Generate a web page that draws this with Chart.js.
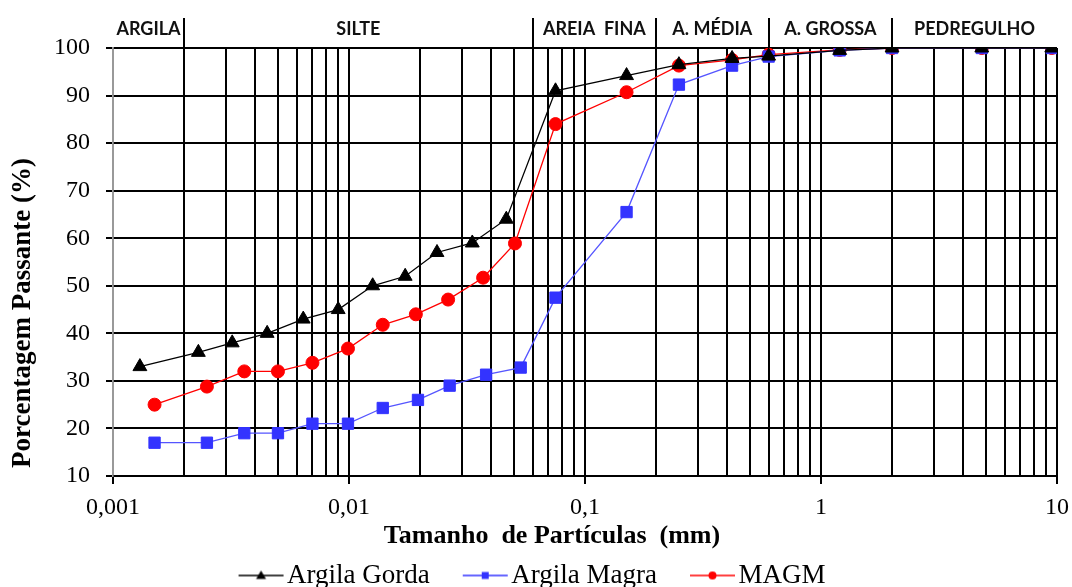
<!DOCTYPE html>
<html>
<head>
<meta charset="utf-8">
<script src="https://cdn.jsdelivr.net/npm/chart.js@4.4.1/dist/chart.umd.min.js"></script>
<style>
  html, body { margin: 0; padding: 0; background: #fff; }
</style>
</head>
<body>
<canvas id="myChart" width="1072" height="587"></canvas>
<script>
// particle size (mm) and percent passing
const gordaX = [0.0013, 0.0023, 0.0032, 0.0045, 0.0064, 0.009, 0.0126, 0.0173, 0.0236, 0.0333, 0.0464, 0.075, 0.15, 0.25, 0.42, 0.6, 1.2, 2.0, 4.8, 9.5];
const gordaY = [33, 36, 38, 40, 43, 45, 50, 52, 57, 59, 64, 91, 94.2, 96.5, 97.8, 98.3, 99.5, 100, 100, 100];

const magraX = [0.0015, 0.0025, 0.0036, 0.005, 0.007, 0.0099, 0.0139, 0.0196, 0.0267, 0.0381, 0.0534, 0.075, 0.15, 0.25, 0.42, 0.6, 1.2, 2.0, 4.8, 9.5];
const magraY = [17, 17, 19, 19, 21, 21, 24.3, 26, 29, 31.3, 32.8, 47.5, 65.5, 92.3, 96.3, 98.2, 99.5, 100, 100, 100];

const magmX = [0.0015, 0.0025, 0.0036, 0.005, 0.007, 0.0099, 0.0139, 0.0192, 0.0263, 0.037, 0.0505, 0.075, 0.15, 0.25, 0.42, 0.6, 1.2, 2.0, 4.8, 9.5];
const magmY = [25, 28.8, 32, 32, 33.8, 36.8, 41.8, 44, 47.1, 51.7, 58.9, 84, 90.7, 96.3, 97.5, 98.6, 99.6, 100, 100, 100];

const seriesNames = ['Argila Gorda', 'Argila Magra', 'MAGM'];

// x axis decades and their labels
const xMajor = [0.001, 0.01, 0.1, 1, 10];
const xTickLabels = ['0,001', '0,01', '0,1', '1', '10'];

const xTitle = 'Tamanho  de Partículas  (mm)';
const yTitle = 'Porcentagem Passante (%)';

// soil classes across the top
const bandNames = ['ARGILA', 'SILTE', 'AREIA  FINA', 'A. MÉDIA', 'A. GROSSA', 'PEDREGULHO'];
const bandLimits = [0.002, 0.06, 0.2, 0.6, 2];

// grid every 1..9 x decade
const xGrid = [];
for (let d = 0; d < xMajor.length - 1; d++) {
  for (let k = 1; k < 10; k++) xGrid.push(+(k * xMajor[d]).toPrecision(6));
}
xGrid.push(xMajor[xMajor.length - 1]);

function majorLabel(v) {
  for (let i = 0; i < xMajor.length; i++) {
    if (Math.abs(v - xMajor[i]) < xMajor[i] * 1e-6) return xTickLabels[i];
  }
  return '';
}

function toPoints(xs, ys) {
  return xs.map((x, i) => ({ x: x, y: ys[i] }));
}

// legend icon: line with a small marker
function legendIcon(color, shape) {
  const c = document.createElement('canvas');
  c.width = 80; c.height = 16;
  const g = c.getContext('2d');
  g.strokeStyle = color; g.fillStyle = color; g.lineWidth = 1.5;
  g.beginPath(); g.moveTo(34, 8); g.lineTo(79, 8); g.stroke();
  const cx = 56.5, cy = 8;
  g.beginPath();
  if (shape == 'triangle') {
    g.moveTo(cx, cy - 5); g.lineTo(cx + 5, cy + 3.5); g.lineTo(cx - 5, cy + 3.5); g.closePath();
  } else if (shape == 'rect') {
    g.rect(cx - 3.5, cy - 3.5, 7, 7);
  } else {
    g.arc(cx, cy, 4, 0, Math.PI * 2);
  }
  g.fill();
  return c;
}
const legendIcons = [legendIcon('#000', 'triangle'), legendIcon('#3333ff', 'rect'), legendIcon('#ff0000', 'circle')];

const serif = 'Liberation Serif';

// class bands over the plot + the two axis titles
const bandPlugin = {
  id: 'bands',
  afterLayout(chart) {
    // nudge the legend a bit left, like the original
    chart.legend.left -= 8;
    chart.legend.right -= 8;
  },
  afterDraw(chart) {
    const { ctx, chartArea } = chart;
    const x = chart.scales.x;
    const edges = [chartArea.left].concat(bandLimits.map(v => x.getPixelForValue(v)), [chartArea.right]);
    ctx.save();
    ctx.strokeStyle = '#000';
    ctx.lineWidth = 2;
    bandLimits.forEach(v => {
      const px = Math.round(x.getPixelForValue(v));
      ctx.beginPath();
      ctx.moveTo(px, 18);
      ctx.lineTo(px, chartArea.top);
      ctx.stroke();
    });
    ctx.font = 'bold 18px Lato';
    ctx.fillStyle = '#111';
    ctx.textAlign = 'center';
    ctx.textBaseline = 'middle';
    bandNames.forEach((n, i) => ctx.fillText(n, (edges[i] + edges[i + 1]) / 2, 29));

    ctx.fillStyle = '#000';
    ctx.font = 'bold 26px "' + serif + '"';
    ctx.fillText(xTitle, 552, 536);
    ctx.translate(23, 313);
    ctx.rotate(-Math.PI / 2);
    ctx.font = 'bold 27px "' + serif + '"';
    ctx.fillText(yTitle, 0, 0);
    ctx.restore();
  }
};

var ctx = document.getElementById('myChart');
new Chart(ctx, {
  type: 'line',
  data: {
    datasets: [{
      label: seriesNames[0],
      data: toPoints(gordaX, gordaY),
      borderColor: '#000',
      backgroundColor: '#000',
      borderWidth: 1.3,
      pointStyle: 'triangle',
      pointRadius: 8,
      pointBorderWidth: 1
    }, {
      label: seriesNames[1],
      data: toPoints(magraX, magraY),
      borderColor: '#5555ff',
      backgroundColor: '#3333ff',
      pointBorderColor: '#3333ff',
      borderWidth: 1.3,
      pointStyle: 'rect',
      pointRadius: 8,
      pointBorderWidth: 1
    }, {
      label: seriesNames[2],
      data: toPoints(magmX, magmY),
      borderColor: '#ff0000',
      backgroundColor: '#ff0000',
      borderWidth: 1.3,
      pointStyle: 'circle',
      pointRadius: 6.5,
      pointBorderWidth: 1
    }]
  },
  options: {
    responsive: false,
    animation: false,
    layout: { padding: { top: 48, right: 15, bottom: -12, left: 0 } },
    scales: {
      x: {
        type: 'logarithmic',
        min: 0.001,
        max: 10,
        afterBuildTicks: (scale) => {
          scale.ticks = xGrid.map(v => ({ value: v, major: majorLabel(v) !== '' }));
        },
        afterFit: (scale) => {
          scale.height = 76;
          scale.paddingRight = 0;
          scale.paddingLeft = 0;
        },
        ticks: {
          autoSkip: false,
          maxRotation: 0,
          padding: 9,
          color: '#000',
          font: { family: serif, size: 24 },
          callback: (v) => majorLabel(v)
        },
        grid: {
          color: (c) => (c.index === 0 ? '#999' : '#000'),
          lineWidth: 2,
          tickLength: 8,
          tickColor: (c) => (c.tick && majorLabel(c.tick.value) !== '' ? '#000' : 'rgba(0,0,0,0)')
        },
        border: { color: '#000', width: 2 },
        title: { display: false }
      },
      y: {
        min: 10,
        max: 100,
        afterFit: (scale) => { scale.width = 113; },
        ticks: {
          stepSize: 10,
          padding: 16,
          color: '#000',
          font: { family: serif, size: 24 }
        },
        grid: { color: '#000', lineWidth: 2, tickLength: 7 },
        border: { color: '#999', width: 1.5 },
        title: { display: false }
      }
    },
    plugins: {
      tooltip: { enabled: false },
      legend: {
        position: 'bottom',
        labels: {
          usePointStyle: true,
          pointStyleWidth: 58,
          padding: 10,
          color: '#000',
          font: { family: serif, size: 27 },
          generateLabels: (chart) => {
            const items = Chart.defaults.plugins.legend.labels.generateLabels(chart);
            items.forEach(it => { it.pointStyle = legendIcons[it.datasetIndex]; });
            return items;
          }
        }
      }
    }
  },
  plugins: [bandPlugin]
});
</script>
</body>
</html>
